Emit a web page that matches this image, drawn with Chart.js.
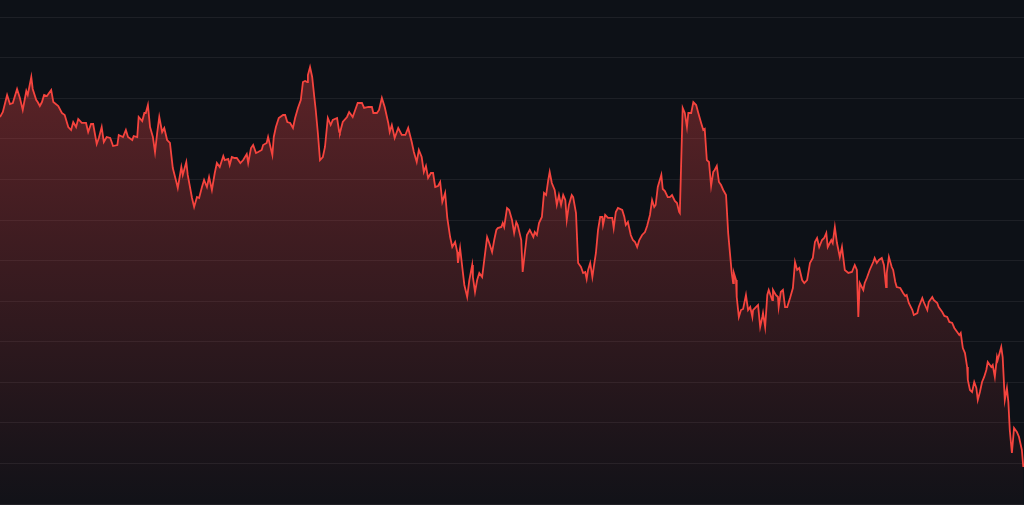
<!DOCTYPE html>
<html>
<head>
<meta charset="utf-8">
<script src="https://cdn.jsdelivr.net/npm/chart.js@4.4.1/dist/chart.umd.min.js"></script>
<style>
  html, body { margin: 0; padding: 0; background: #0d1117; overflow: hidden; }
  #wrap { width: 1024px; height: 505px; }
</style>
</head>
<body>
<div id="wrap"><canvas id="c" width="1024" height="505"></canvas></div>
<script>
// Time (minutes into the session) of each sample
const minutes = [
  0,4,10,14,18,24,28,32,37,39,
  44,46,51,53,56,59,62,66,72,75,
  82,87,91,96,100,103,107,110,115,121,
  124,128,131,136,139,143,146,150,155,159,
  165,167,173,177,180,186,188,193,195,200,
  203,205,208,211,215,218,221,224,228,231,
  235,239,243,248,250,255,257,262,264,270,
  273,277,280,284,287,291,294,298,302,305,
  309,314,316,321,323,326,330,333,338,342,
  347,349,353,356,360,363,368,370,375,377,
  383,385,388,392,398,401,404,408,412,415,
  419,423,426,429,432,433,436,439,442,444,
  447,450,454,457,461,465,468,474,477,
  478,482,488,491,496,501,503,509,512,518,
  523,525,530,533,537,541,546,548,551,555,
  560,565,570,574,579,582,586,589,593,596,
  599,602,606,609,612,616,619,622,626,629,
  633,636,640,643,644,647,651,653,657,660,
  664,665,668,671,674,678,681,685,688,692,
  695,698,700,705,707,709,713,716,720,723,
  726,728,733,735,738,741,745,750,752,755,
  758,762,765,768,771,773,776,780,783,786,
  789,792,795,797,800,804,806,810,813,817,
  820,823,825,827,830,833,835,838,841,844,
  847,848,851,855,861,863,866,869,875,878,
  880,883,887,890,893,896,899,
  903,907,910,914,917,920,922,925,930,932,
  935,939,942,945,949,952,955,956,
  960,963,966,968,972,975,979,982,986,989,
  991,994,997,1000,1003,1005,1008,1011,1014,1017,
  1021,1024,1027,1029,1031,1032,1035,1036,1039,1042,
  1045,1049,1052,1055,1058,1059,1063,1066,1069,1072,
  1073,1076,1079,1081,1086,1087,1091,1094,1095,1098,
  1101,1104,1107,1111,1115,1118,1121,1124,1128,1131,
  1135,1139,1143,1146,1149,1152,1156,1159,1162,1164,
  1169,1171,1174,1177,1181,1184,1188,1193,1198,1202,
  1205,1207,1209,1214,1216,1219,1223,1228,1230,1233,
  1236,1240,1243,1246,1247,1250,1254,1256,1259,1261,
  1266,1270,1273,1275,1278,1283,1285,1290,1292,1297,
  1299,1304,1306,1311,1313,1318,1320,1325,1328,1332,
  1335,1339,1342,1346,1349,1351,1354,1357,1360,1361,
  1364,1367,1370,1373,1375,1378,1381,1384,1387,1389,
  1394,1396,1399,1402,1403,1408,1410,1413,1416,1418,
  1420,1423,1426,1430,1433,1437,1439
];

// Price at each sample
const prices = [
  87710,88320,90420,89310,89430,91160,90050,88570,90910,90420,
  92640,91160,89800,89550,89060,89550,90420,90290,91030,89550,
  89060,88200,87950,86470,86100,87090,86470,87460,86970,86970,
  85860,86840,86840,84380,85120,86470,84620,85240,85120,84130,
  84250,85490,85240,86100,85240,84870,85360,85240,87710,87210,
  88200,88200,89180,86470,85240,83390,85730,87710,85860,86350,
  84870,84500,81420,79690,78950,81540,80560,82160,80560,77720,
  76610,77840,77720,79080,79940,79080,80310,78710,80800,82030,
  81540,82900,82400,82530,81790,82770,82650,82650,82030,82400,
  83140,82030,83880,84250,83270,83390,83640,84250,84500,85240,
  83020,85240,86470,87580,87950,87950,87090,86970,86350,87580,
  88820,89800,92020,92140,92020,92880,93870,92640,90170,88570,
  85730,82400,82770,84010,87580,86720,87340,87580,85860,
  85730,87090,87710,88320,87710,88940,89430,89430,88820,88940,
  88940,88200,88200,88570,90050,88940,86970,85860,86720,85120,
  86350,85490,85490,86350,84620,83390,82160,83640,82770,80930,
  81670,80190,80800,80800,79080,79200,79690,77230,78340,75260,
  72910,71680,72300,71060,69710,71560,68480,67000,65520,67610,
  69460,67980,66130,67610,68480,67980,70080,72910,72170,71060,
  72540,73780,74020,74150,74640,74150,76490,76240,75010,73410,
  74760,74390,72540,68600,70940,73160,73780,72910,73530,73160,
  74640,75380,78340,78090,79940,80930,79570,78710,76860,78090,
  76860,78090,77470,75010,76860,78090,77840,75870,69710,69210,
  68480,68600,67740,68850,69710,67980,69210,70940,73780,75380,
  75380,74390,75630,75260,75260,74020,76000,76490,76240,75380,
  74390,74760,73160,72540,72300,71680,72540,
  73160,73530,74270,75630,77470,76610,76860,79080,80560,78830,
  78580,77840,77840,78090,77350,77100,76000,75870,
  88820,88200,86470,88200,88200,89550,89180,88200,86970,86100,
  86230,82400,82160,79200,80930,81170,81670,79690,79320,78710,
  78090,73410,70450,68480,67240,68480,67610,65520,63050,63910,
  64040,65760,63910,64280,63050,63910,64280,64530,61820,63050,
  63540,61820,65760,66380,65150,66380,65760,65520,64280,66130,
  66380,64280,64280,65390,66630,69830,68850,69090,67610,67240,
  67610,69710,70320,72300,72790,71680,72540,72790,73410,71680,
  72540,72170,74150,72170,70450,71680,68850,68480,68600,69460,
  68850,63050,67240,66380,67240,67860,68850,69830,70320,69710,
  70080,70320,69460,66750,68480,70450,69210,68850,67370,66750,
  66630,66010,65640,65760,64780,63910,63300,63540,64280,65390,
  64900,63910,64900,65520,65150,64780,64280,63670,63180,63050,
  62440,62310,61700,61200,60830,61080,59230,58610,56890,55290,
  54050,53810,55040,54300,52820,53810,55040,55660,56520,57500,
  56890,57130,55660,58120,57750,59350,58120,52820,54300,52570,
  49120,46290,49370,48880,48260,46660,44560
];

// Value-axis grid values
const yTicks = [40000,45000,50000,55000,60000,65000,70000,75000,80000,85000,90000,95000,100000];
const yMin = 39877;
const yMax = 102128;
const xMin = 0;
const xMax = 1440;

const n = Math.min(minutes.length, prices.length);
const points = [];
for (let i = 0; i < n; i++) points.push({ x: minutes[i], y: prices[i] });

const bgPlugin = {
  id: 'bg',
  beforeDraw(chart) {
    const ctx = chart.ctx;
    ctx.save();
    ctx.fillStyle = '#0d1117';
    ctx.fillRect(0, 0, chart.width, chart.height);
    ctx.restore();
  }
};

let grad = null;
function fillGradient(context) {
  const chart = context.chart;
  const area = chart.chartArea;
  if (!area) return 'rgba(239,68,68,0.2)';
  if (!grad) {
    grad = chart.ctx.createLinearGradient(0, area.top, 0, area.bottom);
    grad.addColorStop(0, 'rgba(239,68,68,0.40)');
    grad.addColorStop(1, 'rgba(239,68,68,0.02)');
  }
  return grad;
}

new Chart(document.getElementById('c'), {
  type: 'line',
  data: {
    datasets: [{
      data: points,
      borderColor: '#f5443e',
      borderWidth: 1.8,
      pointRadius: 0,
      pointHoverRadius: 0,
      tension: 0,
      fill: 'start',
      backgroundColor: fillGradient
    }]
  },
  options: {
    responsive: false,
    animation: false,
    layout: { padding: 0 },
    plugins: { legend: { display: false }, tooltip: { enabled: false } },
    scales: {
      x: { type: 'linear', min: xMin, max: xMax, display: false },
      y: {
        min: yMin, max: yMax,
        ticks: { display: false },
        grid: { color: 'rgba(255,255,255,0.065)', drawTicks: false, lineWidth: 1 },
        border: { display: false },
        afterBuildTicks(scale) { scale.ticks = yTicks.map(v => ({ value: v })); },
        afterFit(scale) { scale.width = 0; }
      }
    }
  },
  plugins: [bgPlugin]
});
</script>
</body>
</html>
